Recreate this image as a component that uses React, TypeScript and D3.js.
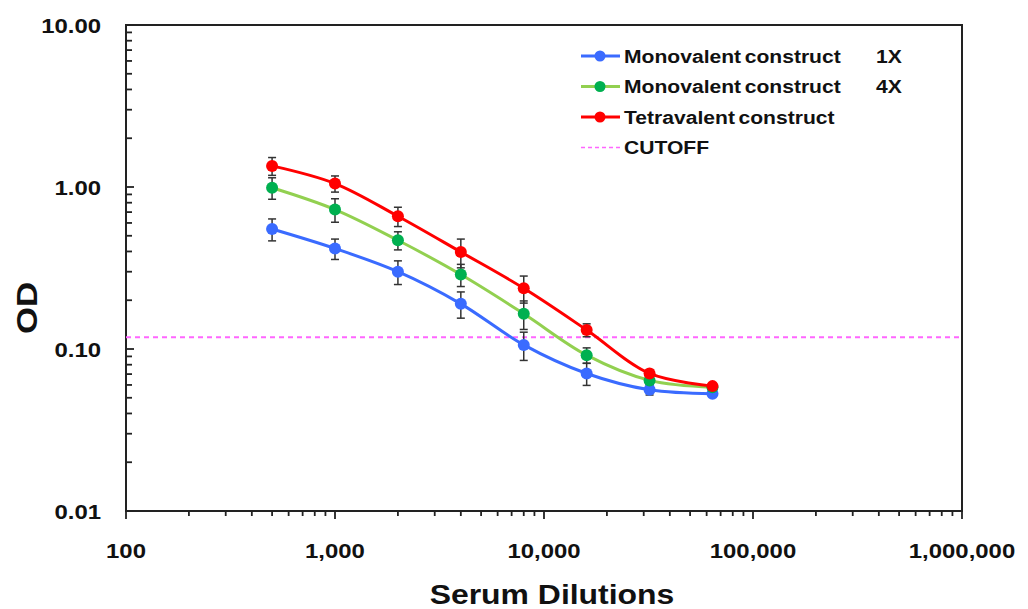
import React from 'react';
import * as d3 from 'd3';

// serum dilutions (x) and mean OD per construct
const dilutions = [500, 1000, 2000, 4000, 8000, 16000, 32000, 64000];
const mono1xOD = [0.55, 0.417, 0.30, 0.19, 0.106, 0.0706, 0.056, 0.053];
const mono1xErr = [0.085, 0.06, 0.05, 0.035, 0.021, 0.011, 0.004, 0.002];
const mono4xOD = [0.99, 0.726, 0.469, 0.288, 0.165, 0.0916, 0.064, 0.058];
const mono4xErr = [0.15, 0.12, 0.06, 0.045, 0.033, 0.01, 0.004, 0.002];
const tetraOD = [1.35, 1.05, 0.66, 0.397, 0.237, 0.131, 0.0706, 0.059];
const tetraErr = [0.17, 0.12, 0.09, 0.08, 0.045, 0.012, 0.004, 0.002];
const cutoff = 0.118;

const xTickValues = [100, 1000, 10000, 100000, 1000000];
const yTickValues = [0.01, 0.1, 1, 10];

const series = [
  { name: 'Monovalent construct', suffix: '1X', values: mono1xOD, errors: mono1xErr, line: '#3A6BFF', marker: '#3A6BFF' },
  { name: 'Monovalent construct', suffix: '4X', values: mono4xOD, errors: mono4xErr, line: '#92D050', marker: '#00B050' },
  { name: 'Tetravalent construct', suffix: '', values: tetraOD, errors: tetraErr, line: '#FF0000', marker: '#FF0000' },
];

const W = 1028;
const H = 609;
const margin = { top: 25, right: 66, bottom: 98, left: 126 };
const font = '"Liberation Sans", Arial, sans-serif';
// the source image is a bit stretched sideways, so text gets widened too
const STRETCH = 1.14;

// minor ticks 2..9 per decade
const minorTicks = (lo: number, hi: number) => {
  const out: number[] = [];
  for (let d = lo; d < hi; d *= 10) {
    for (let k = 2; k <= 9; k++) out.push(d * k);
  }
  return out;
};

type TProps = {
  x: number;
  y: number;
  size: number;
  anchor?: 'start' | 'middle' | 'end';
  dy?: string;
  wordSpacing?: number;
  children: React.ReactNode;
};

const BoldText = ({ x, y, size, anchor = 'start', dy, wordSpacing, children }: TProps) => (
  <text
    transform={`translate(${x},${y}) scale(${STRETCH},1)`}
    dy={dy}
    textAnchor={anchor}
    fontFamily={font}
    fontWeight="bold"
    fontSize={size}
    wordSpacing={wordSpacing}
    fill="#111"
  >
    {children}
  </text>
);

export default function App() {
  const x = d3.scaleLog().domain([100, 1000000]).range([margin.left, W - margin.right]);
  const y = d3.scaleLog().domain([0.01, 10]).range([H - margin.bottom, margin.top]);
  const x0 = margin.left;
  const x1 = W - margin.right;
  const y0 = H - margin.bottom;
  const y1 = margin.top;

  const line = d3
    .line<number>()
    .x((_, i) => x(dilutions[i]))
    .y((d) => y(d))
    .curve(d3.curveCatmullRom.alpha(0.5));

  const fmtX = d3.format(',');

  return (
    <svg width={W} height={H} style={{ position: 'absolute', left: 0, top: 0, background: '#fff' }}>
      {/* plot frame */}
      <rect x={x0} y={y1} width={x1 - x0} height={y0 - y1} fill="none" stroke="#222" strokeWidth={2} />

      {/* y ticks (inside) */}
      {minorTicks(0.01, 10).map((v) => (
        <line key={'ym' + v} x1={x0} x2={x0 + 6} y1={y(v)} y2={y(v)} stroke="#222" strokeWidth={1.8} />
      ))}
      {yTickValues.map((v) => (
        <g key={'y' + v}>
          <line x1={x0} x2={x0 + 8} y1={y(v)} y2={y(v)} stroke="#222" strokeWidth={1.8} />
          <BoldText x={101} y={y(v)} dy="0.36em" anchor="end" size={21}>
            {v.toFixed(2)}
          </BoldText>
        </g>
      ))}

      {/* x ticks (outside) */}
      {minorTicks(100, 1000000).map((v) => (
        <line key={'xm' + v} x1={x(v)} x2={x(v)} y1={y0} y2={y0 + 5} stroke="#222" strokeWidth={1.8} />
      ))}
      {xTickValues.map((v) => (
        <g key={'x' + v}>
          <line x1={x(v)} x2={x(v)} y1={y0} y2={y0 + 8} stroke="#222" strokeWidth={1.8} />
          <BoldText x={x(v)} y={558} anchor="middle" size={21}>
            {fmtX(v)}
          </BoldText>
        </g>
      ))}

      {/* axis titles */}
      <BoldText x={552} y={604} anchor="middle" size={28}>
        Serum Dilutions
      </BoldText>
      <text
        transform={`translate(37,308) rotate(-90) scale(1.2,1)`}
        textAnchor="middle"
        fontFamily={font}
        fontWeight="bold"
        fontSize={29}
        fill="#111"
      >
        OD
      </text>

      {/* cutoff */}
      <line x1={x0} x2={x1} y1={y(cutoff)} y2={y(cutoff)} stroke="#FF66FF" strokeWidth={2} strokeDasharray="5,4" />

      {/* series lines */}
      {series.map((s, si) => (
        <path key={'l' + si} d={line(s.values) || ''} fill="none" stroke={s.line} strokeWidth={3} />
      ))}

      {/* error bars */}
      {series.map((s, si) =>
        s.values.map((v, i) => {
          const cx = x(dilutions[i]);
          const top = y(v + s.errors[i]);
          const bot = y(Math.max(v - s.errors[i], 0.011));
          return (
            <g key={'e' + si + '-' + i} stroke="#333" strokeWidth={1.5}>
              <line x1={cx} x2={cx} y1={top} y2={bot} />
              <line x1={cx - 4} x2={cx + 4} y1={top} y2={top} />
              <line x1={cx - 4} x2={cx + 4} y1={bot} y2={bot} />
            </g>
          );
        })
      )}

      {/* markers */}
      {series.map((s, si) =>
        s.values.map((v, i) => (
          <circle key={'m' + si + '-' + i} cx={x(dilutions[i])} cy={y(v)} r={6} fill={s.marker} />
        ))
      )}

      {/* legend */}
      {series.map((s, si) => {
        const ly = 56 + si * 30.5;
        return (
          <g key={'lg' + si}>
            <line x1={581} x2={620} y1={ly} y2={ly} stroke={s.line} strokeWidth={3} />
            <circle cx={600} cy={ly} r={5.5} fill={s.marker} />
            <BoldText x={624} y={ly} dy="0.36em" size={18.5} wordSpacing={-2}>
              {s.name}
            </BoldText>
            {s.suffix && (
              <BoldText x={876} y={ly} dy="0.36em" size={18.5}>
                {s.suffix}
              </BoldText>
            )}
          </g>
        );
      })}
      <line x1={581} x2={620} y1={147.5} y2={147.5} stroke="#FF66FF" strokeWidth={1.5} strokeDasharray="4,3" />
      <BoldText x={624} y={147.5} dy="0.36em" size={18.5}>
        CUTOFF
      </BoldText>
    </svg>
  );
}
